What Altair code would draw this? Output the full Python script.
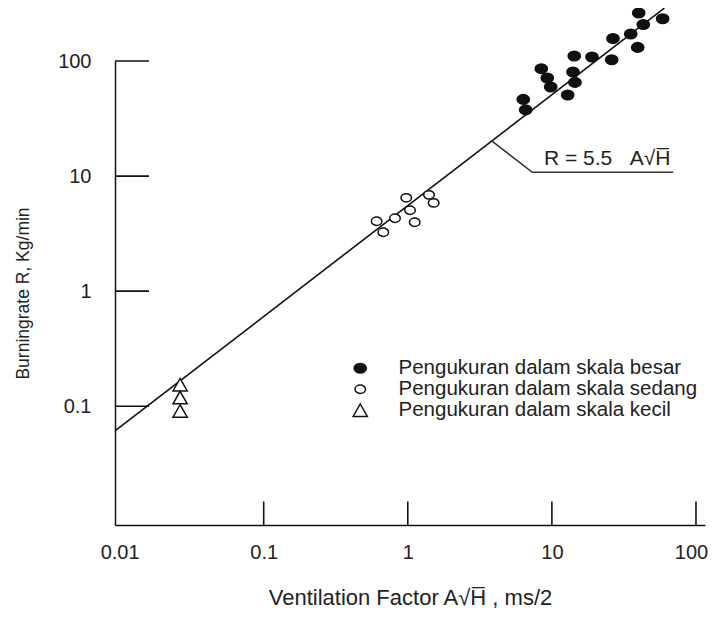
import altair as alt
import pandas as pd

FONT = "Liberation Sans"
INK = "#111111"
TXT = "#222222"

# ---- data ----
categories = [
    "Pengukuran dalam skala besar",
    "Pengukuran dalam skala sedang",
    "Pengukuran dalam skala kecil",
]

large_x = [6.33, 6.58, 8.44, 9.29, 9.81, 12.87, 14.01, 14.30, 14.46, 18.98,
           26.0, 26.55, 35.24, 39.4, 40.05, 43.1, 58.7]
large_y = [46.4, 37.6, 85.8, 71.2, 59.5, 50.7, 80.3, 110.5, 65.2, 108.3,
           102.6, 157.1, 171.6, 131.3, 261.0, 207.9, 232.9]

medium_x = [0.976, 1.403, 1.512, 1.036, 0.815, 0.608, 1.117, 0.676]
medium_y = [6.47, 6.87, 5.85, 5.05, 4.30, 4.05, 3.97, 3.25]

small_x = [0.0263, 0.0263, 0.0263]
small_y = [0.154, 0.119, 0.091]

fit_x = [0.00929, 60.3]
fit_y = [0.061, 288.0]

leader_x = [3.86, 7.31, 69.6]
leader_y = [20.05, 10.79, 10.79]

note_x = [8.81]
note_y = [12.59]
note_text = ["R = 5.5\u00a0\u00a0\u00a0A\u221aH\u0305"]

x_tick_values = [0.1, 1, 10, 100]
y_tick_values = [0.1, 1, 10, 100]
x_label_values = [0.01, 0.1, 1, 10, 100]
y_label_values = [0.1, 1, 10, 100]

# ---- tables ----
points = pd.DataFrame({
    "x": large_x + medium_x + small_x,
    "y": large_y + medium_y + small_y,
    "g": [categories[0]] * len(large_x)
    + [categories[1]] * len(medium_x)
    + [categories[2]] * len(small_x),
})
fit = pd.DataFrame({"x": fit_x, "y": fit_y})
leader = pd.DataFrame({"x": leader_x, "y": leader_y})
note = pd.DataFrame({"x": note_x, "y": note_y, "t": note_text})
xt = pd.DataFrame({"v": x_tick_values})
yt = pd.DataFrame({"v": y_tick_values})

W, H = 590, 464
xs = alt.Scale(type="log", domain=[0.009292, 115.5], nice=False)
ys = alt.Scale(type="log", domain=[0.00929, 100], nice=False)

x_axis = alt.Axis(
    values=x_label_values, format="~g", ticks=False, tickSize=0, grid=False,
    domainColor=INK, domainWidth=1.5, labelFlush=False, labelOverlap=False,
    labelFont=FONT, labelFontSize=20, labelColor=TXT, labelPadding=17,
    labelOffset={"condition": {"test": "datum.value >= 100", "value": -5}, "value": 0},
    title="Ventilation Factor A\u221aH\u0305 , ms/2", titleFont=FONT,
    titleFontSize=22, titleFontWeight="normal", titleColor=TXT, titlePadding=25,
)
y_axis = alt.Axis(
    values=y_label_values, format="~g", ticks=False, tickSize=0, grid=False,
    domainColor=INK, domainWidth=1.5, labelFlush=False, labelOverlap=False,
    labelFont=FONT, labelFontSize=20, labelColor=TXT, labelPadding=24,
    title="Burningrate R, Kg/min", titleFont=FONT,
    titleFontSize=17.5, titleFontWeight="normal", titleColor=TXT, titlePadding=25,
)

ellipse_big = "M-1,0A1,0.78,0,1,1,1,0A1,0.78,0,1,1,-1,0Z"
ellipse_small = "M-0.86,0A0.86,0.68,0,1,1,0.86,0A0.86,0.68,0,1,1,-0.86,0Z"
triangle = "M0,-1.02L1.16,1.02L-1.16,1.02Z"

x_ticks = alt.Chart(xt).mark_rule(color=INK, strokeWidth=1.6).encode(
    x=alt.X("v:Q", scale=xs, axis=x_axis),
    y=alt.value(H),
    y2=alt.value(H - 23.5),
)
y_ticks = alt.Chart(yt).mark_rule(color=INK, strokeWidth=1.6).encode(
    y=alt.Y("v:Q", scale=ys, axis=y_axis),
    x=alt.value(0),
    x2=alt.value(34),
)
fit_line = alt.Chart(fit).mark_line(color=INK, strokeWidth=1.6).encode(
    x=alt.X("x:Q", scale=xs, axis=x_axis),
    y=alt.Y("y:Q", scale=ys, axis=y_axis),
)
leader_line = alt.Chart(leader).mark_line(color="#333333", strokeWidth=1.6).encode(
    x=alt.X("x:Q", scale=xs, axis=x_axis),
    y=alt.Y("y:Q", scale=ys, axis=y_axis),
)
note_text_layer = alt.Chart(note).mark_text(
    align="left", baseline="alphabetic", font=FONT, fontSize=21, color=TXT
).encode(
    x=alt.X("x:Q", scale=xs, axis=x_axis),
    y=alt.Y("y:Q", scale=ys, axis=y_axis),
    text="t:N",
)

legend = alt.Legend(
    title=None, orient="none", legendX=235, legendY=297,
    labelFont=FONT, labelFontSize=20.5, labelColor=TXT, labelOffset=28,
    labelLimit=500, rowPadding=-2,
    symbolSize=150, symbolStrokeWidth=1.5, symbolStrokeColor=INK,
)

pts = alt.Chart(points).mark_point(
    filled=True, strokeWidth=1.5, opacity=1, size=150
).encode(
    x=alt.X("x:Q", scale=xs, axis=x_axis),
    y=alt.Y("y:Q", scale=ys, axis=y_axis),
    shape=alt.Shape("g:N", scale=alt.Scale(domain=categories,
                    range=[ellipse_big, ellipse_small, triangle]), legend=legend),
    fill=alt.Fill("g:N", scale=alt.Scale(domain=categories,
                  range=[INK, "#ffffff", "#ffffff"]), legend=legend),
    stroke=alt.Stroke("g:N", scale=alt.Scale(domain=categories,
                      range=[INK, INK, INK]), legend=legend),
)

chart = alt.layer(y_ticks, x_ticks, fit_line, leader_line, note_text_layer, pts).properties(
    width=W, height=H,
    padding={"left": 107, "top": 53, "right": 3, "bottom": 91},
    autosize=alt.AutoSizeParams(type="none"),
).configure_view(stroke=None)

chart.save("out.html", embed_options={"renderer": "svg", "actions": False})
